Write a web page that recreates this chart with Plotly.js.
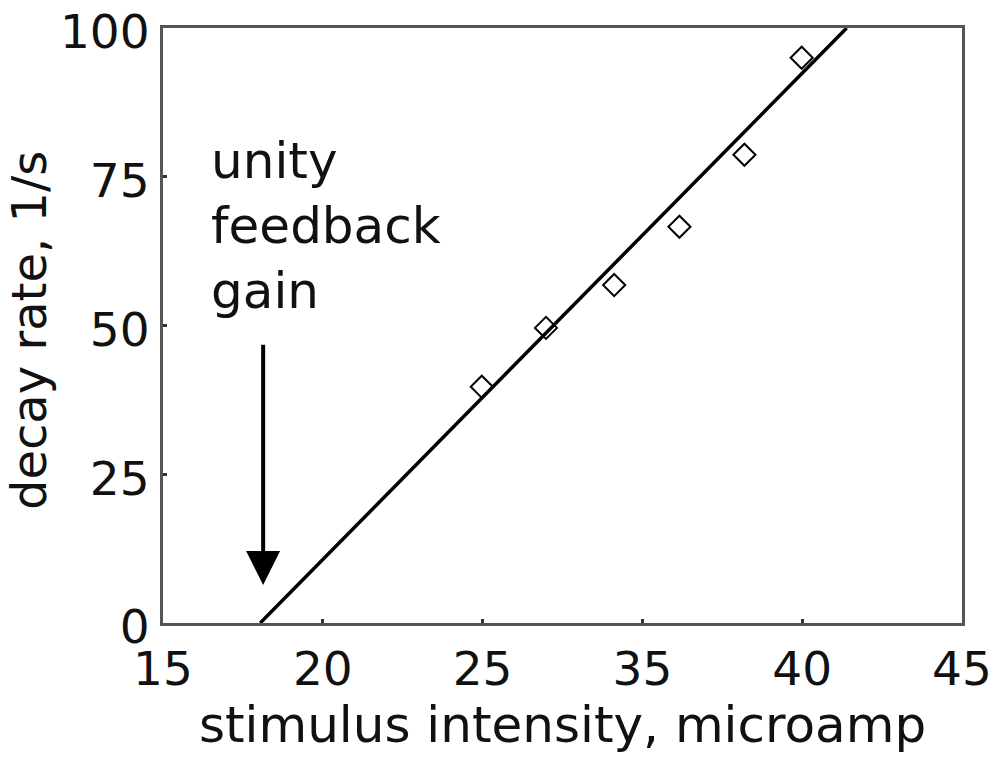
<!DOCTYPE html>
<html>
<head>
<meta charset="utf-8">
<script src="https://cdn.plot.ly/plotly-3.0.1.min.js"></script>
<style>
  html, body { margin: 0; padding: 0; background: #fff; }
  #plot { width: 1005px; height: 759px; }
</style>
</head>
<body>
<div id="plot"></div>
<script>
// measured points (stimulus axis units, decay rate 1/s)
const stimX = [26.97, 29.38, 31.94, 34.39, 36.83, 38.98];
const decayY = [39.7, 49.6, 56.8, 66.6, 78.7, 95.0];

// fitted line end points
const fitX = [18.65, 40.67];
const fitY = [0, 100];

// x ticks, labelled as printed on the figure
const xTickVals = [15, 21, 27, 33, 39, 45];
const xTickText = ['15', '20', '25', '35', '40', '45'];
const yTickVals = [0, 25, 50, 75, 100];

// arrow: tip and tail
const arrowX = 18.76, arrowTipY = 6.4, arrowTailY = 47;

const font = 'DejaVu Sans, Arial, sans-serif';

const traces = [
  { x: fitX, y: fitY, mode: 'lines', line: { color: '#000', width: 3.5 }, showlegend: false },
  { x: stimX, y: decayY, mode: 'markers',
    marker: { symbol: 'diamond-open', size: 17, color: '#000', line: { width: 2, color: '#000' } },
    showlegend: false }
];

const axisCommon = {
  showline: true, mirror: true, linecolor: '#555', linewidth: 3,
  ticks: 'inside', ticklen: 4, tickwidth: 3, tickcolor: '#333',
  showgrid: false, zeroline: false, ticklabeloverflow: 'allow',
  tickfont: { family: font, size: 47, color: '#111' }
};

const layout = {
  width: 1005, height: 759,
  margin: { l: 163, r: 43, t: 28, b: 136 },
  paper_bgcolor: '#fff', plot_bgcolor: '#fff',
  xaxis: Object.assign({}, axisCommon, {
    range: [15, 45], tickvals: xTickVals, ticktext: xTickText, ticklabelstandoff: 3,
    title: { text: 'stimulus intensity, microamp', font: { family: font, size: 50, color: '#111' }, standoff: 5 }
  }),
  yaxis: Object.assign({}, axisCommon, {
    range: [0, 100], tickvals: yTickVals, ticklabelstandoff: 1, ticklabelshift: 4
  }),
  annotations: [
    { xref: 'paper', yref: 'paper', x: -0.168, y: 0.492, xanchor: 'center', yanchor: 'middle',
      text: 'decay rate, 1/s', textangle: -90, showarrow: false,
      font: { family: font, size: 48, color: '#111' } },
    { xref: 'paper', yref: 'paper', x: 0.058, y: 0.668, xanchor: 'left', yanchor: 'middle', align: 'left',
      text: 'unity<br>feedback<br>gain', showarrow: false,
      font: { family: font, size: 50, color: '#111' } },
    { x: arrowX, y: arrowTipY, ax: arrowX, ay: arrowTailY, xref: 'x', yref: 'y', axref: 'x', ayref: 'y',
      text: '', showarrow: true, arrowhead: 2, arrowwidth: 4, arrowsize: 1.7, arrowcolor: '#000' }
  ]
};

Plotly.newPlot('plot', traces, layout, { displayModeBar: false, staticPlot: true });
</script>
</body>
</html>
